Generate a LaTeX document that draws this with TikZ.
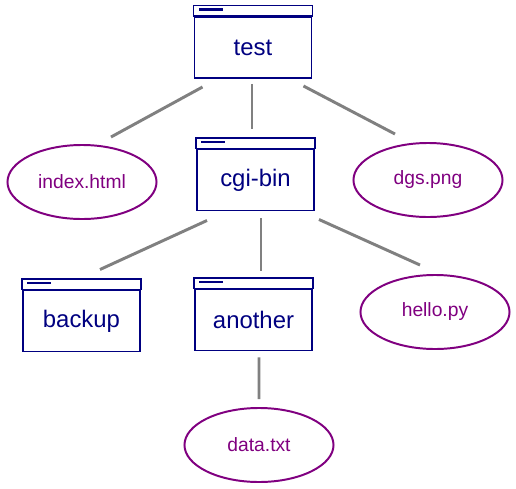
\documentclass[tikz,border=0pt]{standalone}
\usepackage{fontspec}
\setmainfont{Liberation Sans}
\usetikzlibrary{positioning,shapes.geometric}
\definecolor{dirnavy}{RGB}{0,0,128}
\definecolor{filepurple}{RGB}{128,0,128}
\definecolor{linkgray}{RGB}{128,128,128}
\begin{document}
\begin{tikzpicture}[x=0.025cm,y=-0.025cm,
    dir/.style={draw=dirnavy,text=dirnavy,line width=1.4pt,minimum width=2.925cm,minimum height=1.525cm,
      font=\fontsize{17}{20}\selectfont,
      append after command={\pgfextra{\let\dirnode\tikzlastnode
        \draw[dirnavy,line width=1.4pt] (\dirnode.north west) rectangle ([shift={(0,-10.5)}]\dirnode.north east);
        \fill[dirnavy] ([shift={(5,-8)}]\dirnode.north west) rectangle ([shift={(29,-5.5)}]\dirnode.north west);}}},
    file/.style={ellipse,draw=filepurple,text=filepurple,line width=1.4pt,minimum width=3.725cm,minimum height=1.85cm,
      font=\fontsize{13.7}{16}\selectfont},
    link/.style={draw=linkgray,line width=2.1pt}]
    \useasboundingbox (0,0) rectangle (516,489);
    \node[dir] (test) at (253,47.5) {test};
    \node[dir] (cgi) at (255.5,180) {cgi-bin};
    \node[dir] (backup) at (81.5,321) {backup};
    \node[dir] (another) at (253.5,320) {another};
    \node[file] (index) at (82,182) {index.html};
    \node[file] (dgs) at (428,180) {dgs.png};
    \node[file] (hello) at (435,312) {hello.py};
    \node[file] (data) at (259,445) {data.txt};
    \draw[link] ([shift={(9,8)}]test.south west) -- ([shift={(29,-7)}]index.north);
    \draw[link] ([shift={(-1,5)}]test.south) -- ([shift={(-3.5,-20)}]cgi.north);
    \draw[link] ([shift={(-9,7)}]test.south east) -- ([shift={(-33,-8)}]dgs.north);
    \draw[link] ([shift={(11,9)}]cgi.south west) -- ([shift={(18.5,-20)}]backup.north);
    \draw[link] ([shift={(5.5,7)}]cgi.south) -- ([shift={(7.5,-18)}]another.north);
    \draw[link] ([shift={(4,8)}]cgi.south east) -- ([shift={(-15,-9)}]hello.north);
    \draw[link] ([shift={(5.5,6)}]another.south) -- ([shift={(0,-8)}]data.north);
\end{tikzpicture}
\end{document}
